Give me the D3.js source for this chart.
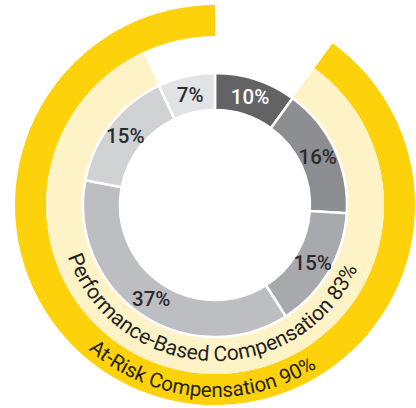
<!DOCTYPE html>
<html>
<head>
<meta charset="utf-8">
<script src="https://cdn.jsdelivr.net/npm/d3@7"></script>
<style>
  html, body { margin: 0; padding: 0; background: #fff; }
  svg { display: block; font-family: Roboto, "Noto Sans", sans-serif; }
</style>
</head>
<body>
<svg id="chart" width="416" height="408"></svg>
<script>
// Pay mix shares (inner donut), clockwise from 12 o'clock
const segmentLabels = ["10%", "16%", "15%", "37%", "15%", "7%"];
const segmentValues = [10, 16, 15, 37, 15, 7];

// Outer bands: share of pay at risk / performance based
const ringNames = ["At-Risk Compensation", "Performance-Based Compensation"];
const ringValues = [90, 83];

const W = 416, H = 408;
const cx = 215, cy = 205;

const grays = ["#636366", "#8d8e91", "#a8a9ac", "#bdbec1", "#d1d2d4", "#e2e3e5"];
const labelColors = ["#ffffff", "#2b2b2d", "#2b2b2d", "#2b2b2d", "#2b2b2d", "#2b2b2d"];

const svg = d3.select("#chart");
const g = svg.append("g").attr("transform", `translate(${cx},${cy})`);

// Angle scale: percentage -> radians around the circle
const angle = d3.scaleLinear().domain([0, 100]).range([0, 2 * Math.PI]);

// Bands begin where the first donut slice ends
const bandStart = angle(segmentValues[0]);

const bands = [
  { name: ringNames[0], value: ringValues[0], inner: 169, outer: 200, fill: "#fdd20a", textR: 192, center: 184.6, size: 20.5 },
  { name: ringNames[1], value: ringValues[1], inner: 131, outer: 169, fill: "#fef2c7", textR: 156, center: 182.3, size: 21 }
];

bands.forEach(b => {
  g.append("path")
    .attr("d", d3.arc()({
      innerRadius: b.inner, outerRadius: b.outer,
      startAngle: bandStart, endAngle: bandStart + angle(b.value)
    }))
    .attr("fill", b.fill);
});

// Inner donut
const pie = d3.pie().sort(null).value(d => d)(segmentValues);
const arc = d3.arc().innerRadius(95).outerRadius(132);

g.selectAll("path.slice")
  .data(pie)
  .join("path")
  .attr("class", "slice")
  .attr("d", arc)
  .attr("fill", (d, i) => grays[i])
  .attr("stroke", "#fff")
  .attr("stroke-width", 2.5)
  .attr("stroke-linejoin", "miter");

g.selectAll("text.slice-label")
  .data(pie)
  .join("text")
  .attr("class", "slice-label")
  .attr("transform", d => `translate(${arc.centroid(d)})`)
  .attr("text-anchor", "middle")
  .attr("dy", "0.36em")
  .attr("font-size", 20.5)
  .attr("font-weight", 500)
  .attr("fill", (d, i) => labelColors[i])
  .text((d, i) => segmentLabels[i]);

// Curved band captions along the bottom, reading left to right
const defs = svg.append("defs");
bands.forEach((b, i) => {
  const deg = Math.PI / 180;
  const a0 = (b.center + 90 - 90) * deg;   // screen angle of left end
  const a1 = (b.center - 90 - 90) * deg;   // screen angle of right end
  const p = d3.path();
  p.moveTo(b.textR * Math.cos(a0), b.textR * Math.sin(a0));
  p.arc(0, 0, b.textR, a0, a1, true);
  defs.append("path").attr("id", "cap" + i).attr("d", p.toString())
    .attr("transform", `translate(${cx},${cy})`);
  svg.append("text")
    .attr("font-size", b.size)
    .attr("fill", "#231f20")
    .append("textPath")
    .attr("href", "#cap" + i)
    .attr("startOffset", "50%")
    .attr("text-anchor", "middle")
    .text(`${b.name} ${b.value}%`);
});
</script>
</body>
</html>
